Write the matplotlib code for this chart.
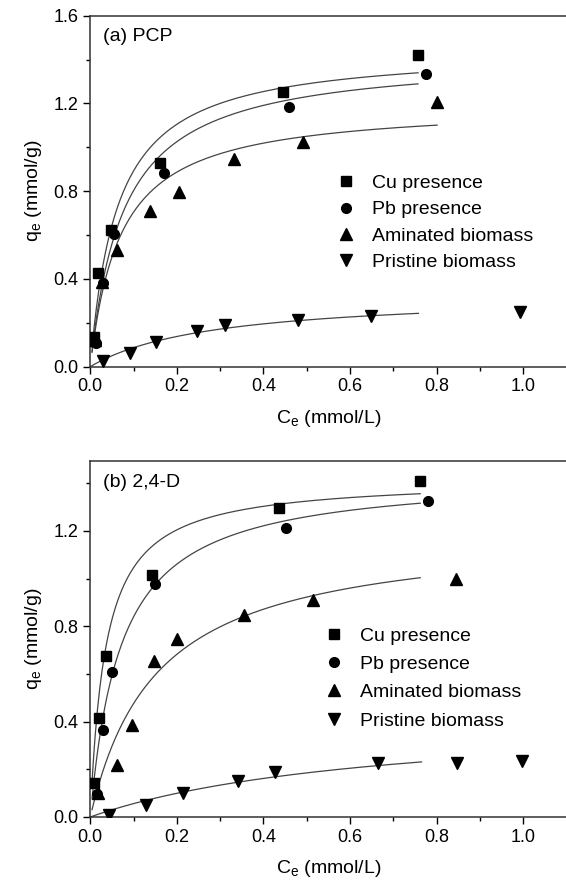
import numpy as np
from matplotlib import pyplot as plt
from matplotlib.ticker import MultipleLocator

plt.rcParams['font.family'] = ['Liberation Sans', 'DejaVu Sans']

labels = ["Cu presence", "Pb presence", "Aminated biomass", "Pristine biomass"]
markers = ["s", "o", "^", "v"]

# (a) PCP -- Ce (mmol/L), qe (mmol/g)
pcp_cu_x = [0.009, 0.018, 0.049, 0.161, 0.445, 0.757]
pcp_cu_y = [0.134, 0.428, 0.623, 0.927, 1.253, 1.420]
pcp_pb_x = [0.013, 0.030, 0.054, 0.170, 0.458, 0.775]
pcp_pb_y = [0.109, 0.383, 0.605, 0.884, 1.185, 1.334]
pcp_am_x = [0.011, 0.026, 0.061, 0.138, 0.206, 0.333, 0.491, 0.801]
pcp_am_y = [0.120, 0.387, 0.532, 0.711, 0.798, 0.948, 1.025, 1.208]
pcp_pr_x = [0.030, 0.092, 0.151, 0.246, 0.311, 0.479, 0.648, 0.992]
pcp_pr_y = [0.027, 0.061, 0.114, 0.162, 0.191, 0.212, 0.230, 0.247]

# (b) 2,4-D
d_cu_x = [0.008, 0.019, 0.036, 0.143, 0.436, 0.762]
d_cu_y = [0.141, 0.414, 0.676, 1.014, 1.296, 1.411]
d_pb_x = [0.015, 0.029, 0.050, 0.150, 0.452, 0.779]
d_pb_y = [0.095, 0.365, 0.610, 0.976, 1.214, 1.324]
d_am_x = [0.017, 0.061, 0.097, 0.147, 0.200, 0.354, 0.515, 0.845]
d_am_y = [0.100, 0.218, 0.386, 0.656, 0.745, 0.848, 0.911, 1.000]
d_pr_x = [0.044, 0.129, 0.215, 0.342, 0.427, 0.665, 0.846, 0.998]
d_pr_y = [0.008, 0.050, 0.099, 0.151, 0.190, 0.228, 0.228, 0.236]

# Langmuir fit lines: (qmax, K, Ce start, Ce end)
pcp_fits = [(1.45, 16.0, 0.004, 0.757), (1.42, 13.0, 0.004, 0.757),
            (1.197, 14.3, 0.004, 0.801), (0.335, 3.485, 0.0, 0.758)]
d_fits = [(1.42, 28.0, 0.004, 0.762), (1.44, 14.0, 0.004, 0.762),
          (1.206, 6.52, 0.004, 0.762), (0.435, 1.48, 0.0, 0.765)]

pcp_data = [(pcp_cu_x, pcp_cu_y), (pcp_pb_x, pcp_pb_y), (pcp_am_x, pcp_am_y), (pcp_pr_x, pcp_pr_y)]
d_data = [(d_cu_x, d_cu_y), (d_pb_x, d_pb_y), (d_am_x, d_am_y), (d_pr_x, d_pr_y)]


def langmuir(c, qm, k):
    return qm * k * c / (1 + k * c)


def draw_panel(ax, data, fits, title, ymax, leg_anchor, leg_space):
    for (qm, k, c0, c1) in fits:
        c = np.linspace(c0, c1, 300)
        ax.plot(c, langmuir(c, qm, k), color='#444444', lw=0.9, zorder=2)
    for (x, y), m, lab in zip(data, markers, labels):
        ms = 7 if m in ("s", "o") else 8
        ax.plot(x, y, ls='none', marker=m, ms=ms, color='black', label=lab, zorder=3)
    ax.set_xlim(0, 1.1)
    ax.set_ylim(0, ymax)
    ax.xaxis.set_major_locator(MultipleLocator(0.2))
    ax.xaxis.set_minor_locator(MultipleLocator(0.1))
    ax.yaxis.set_major_locator(MultipleLocator(0.4))
    ax.yaxis.set_minor_locator(MultipleLocator(0.2))
    ax.xaxis.set_major_formatter(lambda v, p: "%.1f" % v)
    ax.yaxis.set_major_formatter(lambda v, p: "%.1f" % v)
    ax.tick_params(which='major', direction='out', length=5, width=1, labelsize=13)
    ax.tick_params(which='minor', direction='out', length=3, width=1)
    for s in ax.spines.values():
        s.set_linewidth(1.1)
        s.set_color('#333333')
    ax.set_xlabel("C$_\\mathregular{e}$ (mmol/L)", fontsize=14, labelpad=9)
    ax.set_ylabel("q$_\\mathregular{e}$ (mmol/g)", fontsize=14, labelpad=7)
    ax.text(0.026, 0.94, title, transform=ax.transAxes, fontsize=14, va='center', ha='left')
    ax.legend(loc='upper left', bbox_to_anchor=leg_anchor, frameon=False, fontsize=14,
              handlelength=0.8, handletextpad=0.9, labelspacing=leg_space, borderaxespad=0)


fig = plt.figure(figsize=(5.66, 8.88), dpi=100)
ax1 = fig.add_axes([0.1595, 0.5871, 0.8415, 0.3953])
ax2 = fig.add_axes([0.1595, 0.0800, 0.8415, 0.4012])

draw_panel(ax1, pcp_data, pcp_fits, "(a) PCP", 1.6, (0.505, 0.57), 0.45)
draw_panel(ax2, d_data, d_fits, "(b) 2,4-D", 1.495, (0.48, 0.555), 0.55)

fig.savefig("out.png", dpi=100)
